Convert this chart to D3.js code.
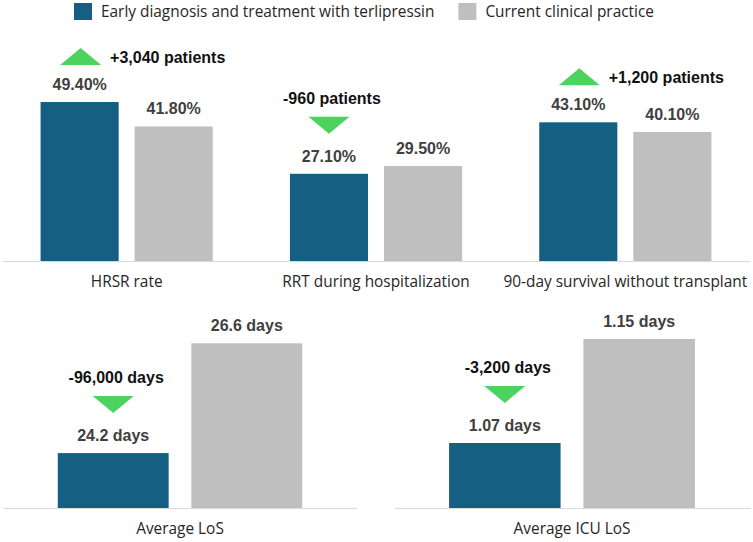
<!DOCTYPE html>
<html>
<head>
<meta charset="utf-8">
<script src="https://cdn.jsdelivr.net/npm/d3@7"></script>
<style>
  body { margin: 0; background: #fff; }
  svg { display: block; }
</style>
</head>
<body>
<svg id="chart" width="753" height="542"></svg>
<script>
// series names (legend)
var seriesNames = ["Early diagnosis and treatment with terlipressin", "Current clinical practice"];

// top panel: outcome rates (%)
var outcomeCategories = ["HRSR rate", "RRT during hospitalization", "90-day survival without transplant"];
var outcomeEarly = [49.4, 27.1, 43.1];
var outcomeCurrent = [41.8, 29.5, 40.1];
var outcomeChange = ["+3,040 patients", "-960 patients", "+1,200 patients"];

// bottom left: length of stay (days)
var losCategories = ["Average LoS"];
var losEarly = [24.2];
var losCurrent = [26.6];
var losChange = ["-96,000 days"];

// bottom right: ICU length of stay (days)
var icuCategories = ["Average ICU LoS"];
var icuEarly = [1.07];
var icuCurrent = [1.15];
var icuChange = ["-3,200 days"];

var colors = ["#156082", "#bfbfbf"];
var green = "#4cd35e";
var valueColor = "#404040";
var axisColor = "#d9d9d9";

var svg = d3.select("#chart");

// legend
var legend = svg.append("g").attr("class", "legend");
var lx = 74;
seriesNames.forEach(function (name, i) {
  legend.append("rect")
    .attr("x", lx).attr("y", 3)
    .attr("width", 18).attr("height", 17)
    .attr("fill", colors[i]);
  var t = legend.append("text")
    .attr("x", lx + 27).attr("y", 17)
    .style("font-family", "'Open Sans', sans-serif")
    .style("font-size", "15.4px")
    .attr("fill", "#262626")
    .text(name);
  lx = lx + 27 + t.node().getComputedTextLength() + 24;
});

function drawPanel(opts) {
  var g = svg.append("g");
  var data = opts.categories.map(function (c, i) {
    return { cat: c, values: [opts.early[i], opts.current[i]], change: opts.change[i] };
  });

  var x0 = d3.scaleBand().domain(opts.categories).range(opts.xRange).padding(0);
  var x1 = d3.scaleBand().domain([0, 1]).range([0, x0.bandwidth()])
    .paddingInner(0.17).paddingOuter(0.41);
  var y = d3.scaleLinear().domain(opts.yDomain).range(opts.yRange);
  var base = opts.yRange[0];

  // axis line + category labels
  var axis = g.append("g")
    .attr("transform", "translate(0," + base + ")")
    .call(d3.axisBottom(x0).tickSize(0).tickSizeOuter(0).tickPadding(15));
  axis.select(".domain").attr("stroke", axisColor).attr("stroke-width", 1.2);
  axis.selectAll("text")
    .style("font-family", "'Open Sans', sans-serif")
    .style("font-size", "15.4px")
    .attr("fill", "#262626");

  var groups = g.selectAll("g.grp").data(data).enter().append("g")
    .attr("class", "grp")
    .attr("transform", function (d) { return "translate(" + x0(d.cat) + ",0)"; });

  groups.selectAll("rect").data(function (d) { return d.values; }).enter().append("rect")
    .attr("x", function (d, i) { return x1(i); })
    .attr("y", function (d) { return y(d); })
    .attr("width", x1.bandwidth())
    .attr("height", function (d) { return base - y(d); })
    .attr("fill", function (d, i) { return colors[i]; });

  groups.selectAll("text.val").data(function (d) { return d.values; }).enter().append("text")
    .attr("class", "val")
    .attr("x", function (d, i) { return x1(i) + x1.bandwidth() / 2; })
    .attr("y", function (d) { return y(d) - 12; })
    .attr("text-anchor", "middle")
    .style("font-family", "'Liberation Sans', Arial, sans-serif")
    .style("font-weight", "bold")
    .style("font-size", "16px")
    .attr("fill", valueColor)
    .text(opts.fmt);

  // change annotation with triangle
  groups.each(function (d) {
    var gg = d3.select(this);
    var cx = x1(0) + x1.bandwidth() / 2;
    var top = y(d.values[0]);
    var hw = 20.5, th = 17;
    var up = d.values[0] > d.values[1];
    if (up) {
      var b = top - 37;
      gg.append("path")
        .attr("d", d3.line()([[cx + 1 - hw, b], [cx + 1 + hw, b], [cx + 1, b - th]]) + "Z")
        .attr("fill", green);
      gg.append("text")
        .attr("x", cx + 1 + hw + 9).attr("y", b - 2)
        .style("font-family", "'Liberation Sans', Arial, sans-serif")
        .style("font-weight", "bold").style("font-size", "16px")
        .attr("fill", "#111")
        .text(d.change);
    } else {
      var tip = top - 40;
      gg.append("path")
        .attr("d", d3.line()([[cx - hw, tip - th], [cx + hw, tip - th], [cx, tip]]) + "Z")
        .attr("fill", green);
      gg.append("text")
        .attr("x", cx + 3).attr("y", tip - th - 13)
        .attr("text-anchor", "middle")
        .style("font-family", "'Liberation Sans', Arial, sans-serif")
        .style("font-weight", "bold").style("font-size", "16px")
        .attr("fill", "#111")
        .text(d.change);
    }
  });
}

drawPanel({
  categories: outcomeCategories, early: outcomeEarly, current: outcomeCurrent, change: outcomeChange,
  xRange: [2, 750], yDomain: [0, 55], yRange: [261, 84],
  fmt: function (d) { return d3.format(".2f")(d) + "%"; }
});

drawPanel({
  categories: losCategories, early: losEarly, current: losCurrent, change: losChange,
  xRange: [3, 357], yDomain: [23, 27], yRange: [508, 325],
  fmt: function (d) { return d3.format(".1f")(d) + " days"; }
});

drawPanel({
  categories: icuCategories, early: icuEarly, current: icuCurrent, change: icuChange,
  xRange: [394, 750], yDomain: [1.02, 1.16], yRange: [508, 326],
  fmt: function (d) { return d3.format(".2f")(d) + " days"; }
});
</script>
</body>
</html>
